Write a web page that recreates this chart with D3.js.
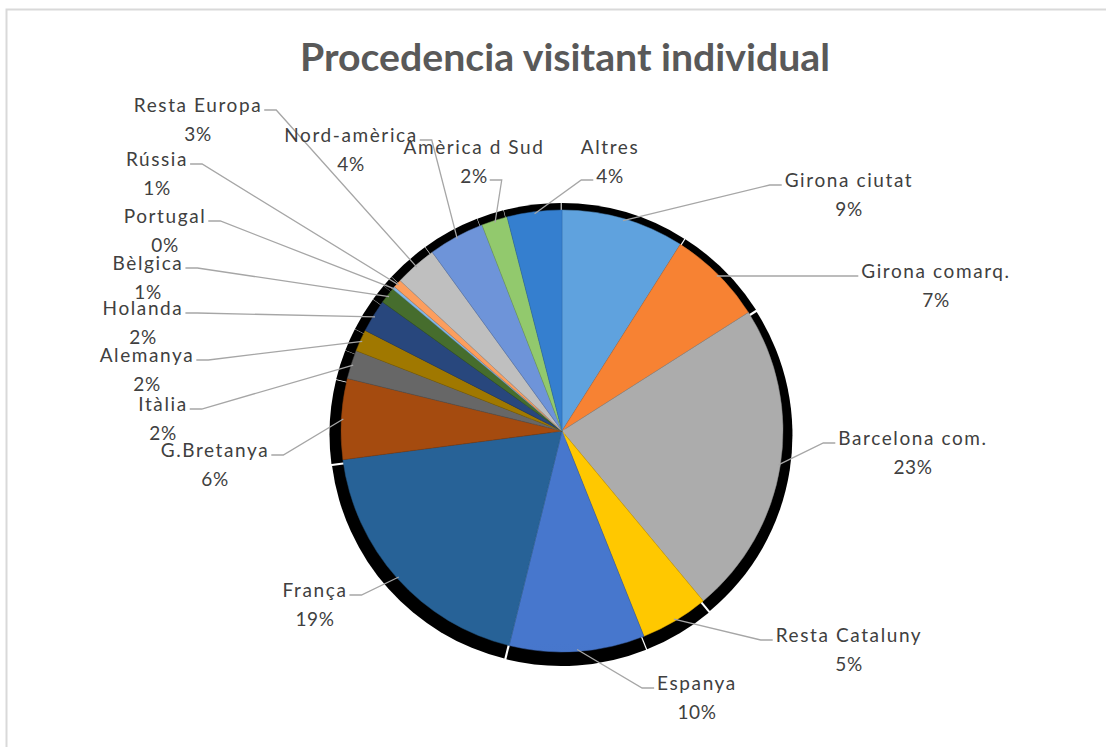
<!DOCTYPE html>
<html>
<head>
<meta charset="utf-8">
<script src="https://cdn.jsdelivr.net/npm/d3@7"></script>
<style>
  html, body { margin: 0; padding: 0; background: #ffffff; }
  svg { display: block; }
</style>
</head>
<body>
<svg id="chart" width="1106" height="747"></svg>
<script>
// ---- data ----
const categories = ["Girona ciutat", "Girona comarq.", "Barcelona com.", "Resta Cataluny", "Espanya",
  "França", "G.Bretanya", "Itàlia", "Alemanya", "Holanda", "Bèlgica", "Portugal", "Rússia",
  "Resta Europa", "Nord-amèrica", "Amèrica d Sud", "Altres"];
const values = [9.0, 7.0, 23.0, 5.0, 9.9, 19.1, 5.9, 2.1, 1.6, 2.4, 1.2, 0.2, 0.6, 3.1, 4.1, 1.9, 4.0];
const colors = ["#5B9BD5", "#ED7D31", "#A5A5A5", "#FFC000", "#4472C4", "#255E91", "#9E480E", "#636363",
  "#997300", "#264478", "#43682B", "#7CAFDD", "#F1975A", "#B7B7B7", "#698ED0", "#8CC168", "#337AC6"];
const title = "Procedencia visitant individual";

// ---- layout (label placement, not data) ----
const labelPos = [
  [849, 181, 0], [936, 272, 0], [913, 439, 0], [849, 636, 0], [697, 684, 0],
  [315, 591, 0], [215, 451, 0], [163, 405, 0], [147, 356, 0], [143, 309, 0],
  [148, 264, 0], [165, 217, 0], [157, 160, 0], [198, 106, 0], [351, 136, 0],
  [474, 148, 1], [610, 148, 1]
];

const W = 1106, H = 747;
const cx = 562, cy = 431, R = 221;
const svg = d3.select("#chart");

svg.append("rect").attr("x", 6.5).attr("y", 9.5).attr("width", 1300).attr("height", 900)
  .attr("fill", "#ffffff").attr("stroke", "#d9d9d9").attr("stroke-width", 2);

svg.append("text").attr("x", 565).attr("y", 71).attr("text-anchor", "middle")
  .attr("font-family", "Lato, 'Open Sans', sans-serif").attr("font-weight", "bold")
  .attr("font-size", 38).attr("fill", "#595959")
  .attr("textLength", 530).attr("lengthAdjust", "spacingAndGlyphs")
  .text(title);

const total = d3.sum(values);
const pie = d3.pie().sort(null).value(d => d).startAngle(0).endAngle(2 * Math.PI);
const arcsData = pie(values);

const defs = svg.append("defs");
arcsData.forEach((a, i) => {
  const c = d3.color(colors[i]);
  const g = defs.append("linearGradient").attr("id", "grad" + i)
    .attr("gradientUnits", "userSpaceOnUse")
    .attr("x1", 0).attr("y1", cy - R).attr("x2", 0).attr("y2", cy + R);
  g.append("stop").attr("offset", "0%").attr("stop-color", c.brighter(0.12).formatHex());
  g.append("stop").attr("offset", "100%").attr("stop-color", c.darker(0.3).formatHex());
});

const gPie = svg.append("g").attr("transform", `translate(${cx},${cy})`);

// shadow
const shadowArc = d3.arc().innerRadius(0).outerRadius(R + 8);
gPie.append("g").selectAll("path").data(arcsData).join("path")
  .attr("d", shadowArc)
  .attr("fill", "#000000")
  .attr("transform", d => {
    const m = (d.startAngle + d.endAngle) / 2;
    return `translate(${Math.sin(m) * 2.5 - 1},${-Math.cos(m) * 2.5 + 3.5})`;
  });

const arc = d3.arc().innerRadius(0).outerRadius(R);
gPie.append("g").selectAll("path").data(arcsData).join("path")
  .attr("d", arc)
  .attr("fill", (d, i) => `url(#grad${i})`)
  .attr("stroke", (d, i) => d3.color(colors[i]).darker(0.4).formatHex())
  .attr("stroke-width", 0.5);

// labels
const fontFam = "Lato, 'Open Sans', sans-serif";
const gLab = svg.append("g");
arcsData.forEach((a, i) => {
  const [lx, ly, line] = labelPos[i];
  const pct = Math.round(a.data / total * 100) + "%";
  const t1 = gLab.append("text").attr("x", lx).attr("y", ly + 6).attr("text-anchor", "middle")
    .attr("font-family", fontFam).attr("font-size", 19).attr("letter-spacing", 1.6)
    .attr("fill", "#404040").text(categories[i]);
  const t2 = gLab.append("text").attr("x", lx).attr("y", ly + 35).attr("text-anchor", "middle")
    .attr("font-family", fontFam).attr("font-size", 19).attr("letter-spacing", 0.6)
    .attr("fill", "#404040").text(pct);
  const box = (line ? t2 : t1).node().getBBox();
  const sy = (line ? ly + 28 : ly) + 4;
  const m = (a.startAngle + a.endAngle) / 2;
  const px = cx + Math.sin(m) * (R - 2), py = cy - Math.cos(m) * (R - 2);
  let x0, x1;
  if (lx > cx) { x0 = box.x - 3; x1 = x0 - 12; }
  else { x0 = box.x + box.width + 2; x1 = x0 + 12; }
  gLab.insert("path", ":first-child")
    .attr("d", `M${x0},${sy}L${x1},${sy}L${px},${py}`)
    .attr("fill", "none").attr("stroke", "#a6a6a6").attr("stroke-width", 1.3);
});
</script>
</body>
</html>
